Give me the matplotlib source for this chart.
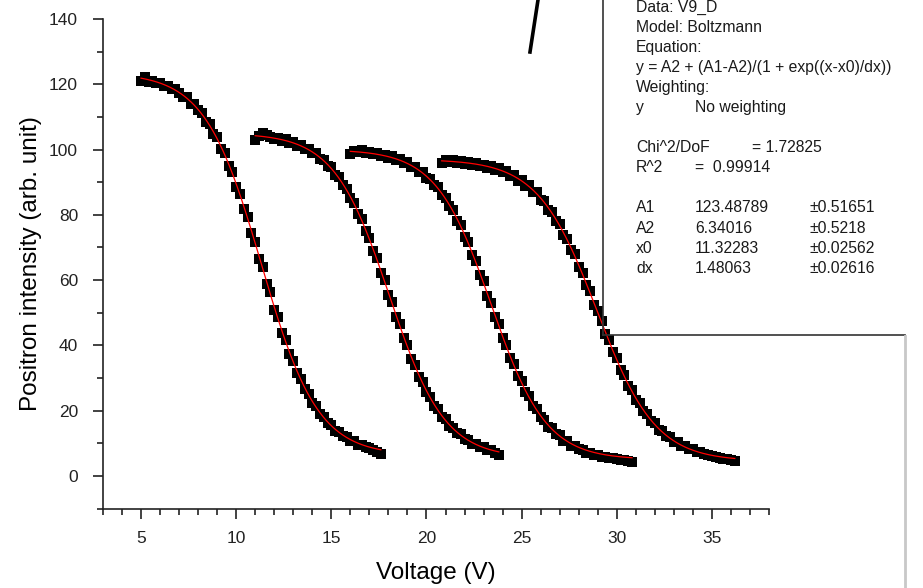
import matplotlib
matplotlib.use("Agg")
import matplotlib.pyplot as plt
from matplotlib.lines import Line2D
import numpy as np

plt.rcParams['font.family'] = ['Liberation Sans', 'DejaVu Sans']

# measured data, voltage sweeps with 0.2 V steps
volt_ranges = [(5.0, 17.6), (11.0, 23.8), (16.0, 30.8), (20.8, 36.2)]

counts_1 = [121.0, 122.3, 120.6, 120.9, 120.4, 120.5, 119.6, 119.5, 118.4, 118.6,
            117.3, 116.2, 116.0, 114.1, 113.9, 112.0, 111.2, 108.5, 107.8, 104.8,
            103.9, 100.2, 98.8, 94.9, 93.1, 88.6, 86.5, 81.9, 79.4, 74.4,
            71.8, 66.6, 63.9, 58.7, 56.2, 50.9, 48.6, 43.7, 41.5, 37.2,
            35.3, 31.4, 29.8, 26.5, 25.1, 22.4, 21.3, 19.0, 18.1, 16.3,
            15.5, 13.9, 13.5, 12.1, 12.0, 10.8, 10.6, 9.6, 9.5, 8.8,
            8.4, 7.9, 7.4, 6.6]
counts_2 = [102.8, 104.3, 105.2, 104.6, 103.9, 103.2, 103.6, 102.6, 103.1, 102.0,
            102.3, 101.2, 101.5, 100.1, 100.3, 98.8, 98.9, 97.1, 96.9, 95.0,
            94.6, 92.3, 91.6, 89.0, 88.0, 85.0, 83.7, 80.3, 78.6, 74.9,
            72.9, 68.8, 66.7, 62.3, 60.0, 55.5, 53.2, 48.7, 46.4, 42.1,
            40.0, 35.9, 34.1, 30.4, 28.8, 25.6, 24.3, 21.5, 20.4, 18.1,
            17.3, 15.3, 14.8, 13.0, 12.8, 11.3, 11.1, 9.9, 9.8, 8.8,
            8.8, 8.0, 7.9, 7.0, 6.5]
counts_3 = [98.6, 99.6, 99.2, 99.9, 98.8, 99.3, 98.5, 98.9, 97.9, 98.4,
            97.5, 97.9, 96.8, 97.0, 95.9, 96.1, 94.7, 94.8, 93.2, 93.1,
            91.3, 91.1, 89.0, 88.5, 86.0, 85.3, 82.6, 81.4, 78.2, 76.9,
            73.3, 71.6, 67.8, 65.9, 61.7, 59.6, 55.2, 53.0, 48.6, 46.4,
            42.1, 40.1, 36.0, 34.3, 30.6, 29.0, 25.7, 24.4, 21.4, 20.4,
            17.9, 17.2, 15.0, 14.6, 12.7, 12.4, 10.8, 10.6, 9.3, 9.2,
            8.1, 8.0, 7.1, 7.1, 6.4, 6.4, 5.9, 5.9, 5.5, 5.5,
            5.1, 5.0, 4.8, 4.6, 4.4]
counts_4 = [95.8, 96.8, 96.2, 96.9, 95.9, 96.5, 95.7, 96.2, 95.3, 95.8,
            94.9, 95.4, 94.4, 94.9, 93.8, 94.2, 93.0, 93.3, 91.9, 92.2,
            90.5, 90.8, 88.9, 89.1, 87.0, 86.9, 84.6, 84.2, 81.6, 81.0,
            78.0, 77.1, 73.9, 72.7, 69.2, 68.0, 64.0, 62.3, 58.5, 56.6,
            52.4, 50.5, 47.4, 43.5, 41.6, 37.9, 36.0, 32.4, 31.0, 27.6,
            26.4, 23.3, 22.4, 19.8, 19.0, 16.7, 16.2, 14.2, 13.9, 12.1,
            11.9, 10.5, 10.4, 9.2, 9.1, 8.2, 8.1, 7.4, 7.2, 6.6,
            6.4, 6.0, 5.8, 5.5, 5.3, 5.1, 4.9, 4.7]
all_counts = [counts_1, counts_2, counts_3, counts_4]

fit_A1 = [123.48789, 105.0, 100.0, 97.0]
fit_A2 = [6.34016, 5.5, 5.0, 4.5]
fit_x0 = [11.32283, 18.05, 23.4, 28.95]
fit_dx = [1.48063, 1.45, 1.44, 1.54]

report_rows = [
    ("Data: V9_D", "", ""),
    ("Model: Boltzmann", "", ""),
    ("Equation:", "", ""),
    ("y = A2 + (A1-A2)/(1 + exp((x-x0)/dx))", "", ""),
    ("Weighting:", "", ""),
    ("y", "No weighting", ""),
    ("", "", ""),
    ("Chi^2/DoF", "", "= 1.72825"),
    ("R^2", "=  0.99914", ""),
    ("", "", ""),
    ("A1", "123.48789", "\u00b10.51651"),
    ("A2", "6.34016", "\u00b10.5218"),
    ("x0", "11.32283", "\u00b10.02562"),
    ("dx", "1.48063", "\u00b10.02616"),
]


def boltzmann(x, a1, a2, x0, dx):
    return a2 + (a1 - a2) / (1 + np.exp((x - x0) / dx))


W, H = 923, 588
fig = plt.figure(figsize=(W / 100, H / 100), dpi=100)
ax = fig.add_axes([103 / W, 1 - 508.5 / H, (769 - 103) / W, (508.5 - 19) / H])

for (v0, v1), y, a1, a2, x0, dx in zip(volt_ranges, all_counts, fit_A1, fit_A2, fit_x0, fit_dx):
    x = np.linspace(v0, v1, len(y))
    ax.plot(x, y, linestyle='none', marker='s', markersize=7.2,
            color='black', markeredgewidth=0, zorder=2)
    xf = np.linspace(v0, v1, 300)
    ax.plot(xf, boltzmann(xf, a1, a2, x0, dx), color='red', linewidth=0.9, zorder=3)

ax.set_xlim(3, 38)
ax.set_ylim(-10, 140)
ax.set_xticks(np.arange(5, 36, 5))
ax.set_xticks(np.arange(3, 39, 1), minor=True)
ax.set_yticks(np.arange(0, 141, 20))
ax.set_yticks(np.arange(-10, 141, 10), minor=True)

for s in ['top', 'right']:
    ax.spines[s].set_visible(False)
for s in ['left', 'bottom']:
    ax.spines[s].set_linewidth(1.2)
    ax.spines[s].set_color('#222222')

ax.tick_params(which='major', direction='out', length=7, width=1.2,
               labelsize=12.5, colors='#222222')
ax.tick_params(which='minor', direction='out', length=4, width=1.2, colors='#222222')
ax.tick_params(axis='y', which='major', pad=11)
ax.tick_params(axis='x', which='major', pad=9)

ax.set_xlabel("Voltage (V)", fontsize=17.5, labelpad=12)
ax.set_ylabel("Positron intensity (arb. unit)", fontsize=17.5, labelpad=5)

# fit report box in the top right corner
col_x = [636, 695, 752]
for i, row in enumerate(report_rows):
    yy = 7 + i * 20.1
    for j, txt in enumerate(row):
        if not txt:
            continue
        xx = col_x[j]
        if txt.startswith("\u00b1"):
            xx = 810
        fig.text(xx / W, 1 - yy / H, txt, fontsize=11.3, color='#1a1a1a',
                 ha='left', va='center')

box_col = '#333333'
fig.add_artist(Line2D([603 / W, 603 / W], [1, 1 - 335 / H], color=box_col,
                      linewidth=1.2, transform=fig.transFigure))
fig.add_artist(Line2D([603 / W, 905 / W], [1 - 335 / H, 1 - 335 / H], color=box_col,
                      linewidth=1.2, transform=fig.transFigure))
fig.add_artist(Line2D([905 / W, 905 / W], [1 - 336 / H, 0], color='#c8c8c8',
                      linewidth=2, transform=fig.transFigure))

# stray pointer line at the top
fig.add_artist(Line2D([538 / W, 530 / W], [1, 1 - 52 / H], color='black',
                      linewidth=2.6, transform=fig.transFigure))

fig.savefig("out.png", dpi=100)
